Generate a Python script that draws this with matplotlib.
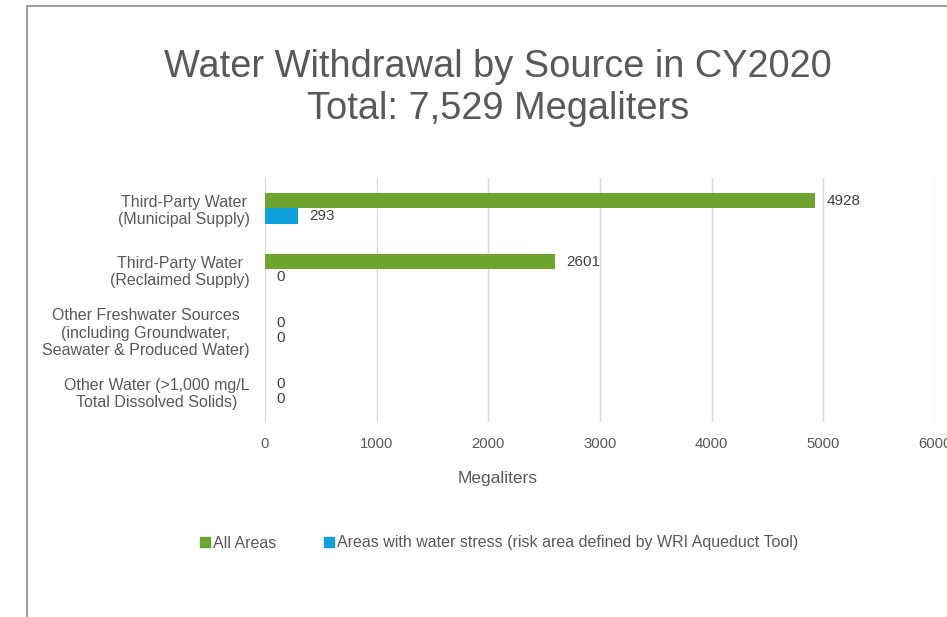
import numpy as np
import matplotlib
matplotlib.use('Agg')
import matplotlib.pyplot as plt
from matplotlib.patches import Patch, Rectangle

plt.rcParams['font.family'] = ['Liberation Sans', 'DejaVu Sans']

# Data
categories = [
    'Third-Party Water\n(Municipal Supply)',
    'Third-Party Water\n(Reclaimed Supply)',
    'Other Freshwater Sources\n(including Groundwater,\nSeawater & Produced Water)',
    'Other Water (>1,000 mg/L\nTotal Dissolved Solids)',
]
all_areas = [4928, 2601, 0, 0]
water_stress = [293, 0, 0, 0]
series_names = ['All Areas',
                'Areas with water stress (risk area defined by WRI Aqueduct Tool)']
x_ticks = [0, 1000, 2000, 3000, 4000, 5000, 6000]
title_lines = ['Water Withdrawal by Source in CY2020', 'Total: 7,529 Megaliters']

green = '#6DA52F'
blue = '#0EA0DC'
text_col = '#595959'

fig = plt.figure(figsize=(9.47, 6.17), dpi=100)
ax = fig.add_axes([265 / 947, 1 - 422 / 617, (935 - 265) / 947, (422 - 178) / 617])

y = np.arange(len(categories))
h = 0.25
ax.barh(y - h / 2, all_areas, height=h, color=green, zorder=3)
ax.barh(y + h / 2, water_stress, height=h, color=blue, zorder=3)

# value labels
for yi, v in zip(y, all_areas):
    ax.annotate(str(v), (v, yi - h / 2), xytext=(8, 0), textcoords='offset points',
                va='center', ha='left', fontsize=11, color='#404040')
for yi, v in zip(y, water_stress):
    ax.annotate(str(v), (v, yi + h / 2), xytext=(8, 0), textcoords='offset points',
                va='center', ha='left', fontsize=11, color='#404040')

ax.set_xlim(0, 6000)
ax.set_ylim(len(categories) - 0.5, -0.5)
ax.set_xticks(x_ticks)
ax.set_xticklabels([str(t) for t in x_ticks], fontsize=10.7, color=text_col)
ax.set_yticks(y)
ax.set_yticklabels(categories, fontsize=11.5, color=text_col)
for lbl in ax.get_yticklabels():
    lbl.set_multialignment('center')
ax.tick_params(axis='both', length=0)
ax.tick_params(axis='y', pad=11)
ax.tick_params(axis='x', pad=10.5)
ax.grid(axis='x', color='#d9d9d9', linewidth=1, zorder=0)
ax.set_axisbelow(True)
for s in ax.spines.values():
    s.set_visible(False)

# titles
fig.text(0.526, 1 - 77 / 617, title_lines[0], ha='center', va='baseline',
         fontsize=27.4, color=text_col)
fig.text(0.526, 1 - 119 / 617, title_lines[1], ha='center', va='baseline',
         fontsize=27.4, color=text_col)
fig.text(498 / 947, 1 - 478 / 617, 'Megaliters', ha='center', va='center',
         fontsize=12.5, color=text_col)

# legend
handles = [Patch(color=green), Patch(color=blue)]
fig.legend(handles, series_names, loc='center', bbox_to_anchor=(499 / 947, 1 - 543 / 617),
           ncol=2, frameon=False, fontsize=11.5, handlelength=0.6, handleheight=0.6,
           handletextpad=0.2, columnspacing=3.0, labelcolor=text_col)

# chart border (cropped)
fig.patches.append(Rectangle((27 / 947, -0.1), 2, 1.1 - 6 / 617, transform=fig.transFigure,
                             fill=False, edgecolor='#8c8c8c', linewidth=1.2))

fig.savefig('out.png', dpi=100)
